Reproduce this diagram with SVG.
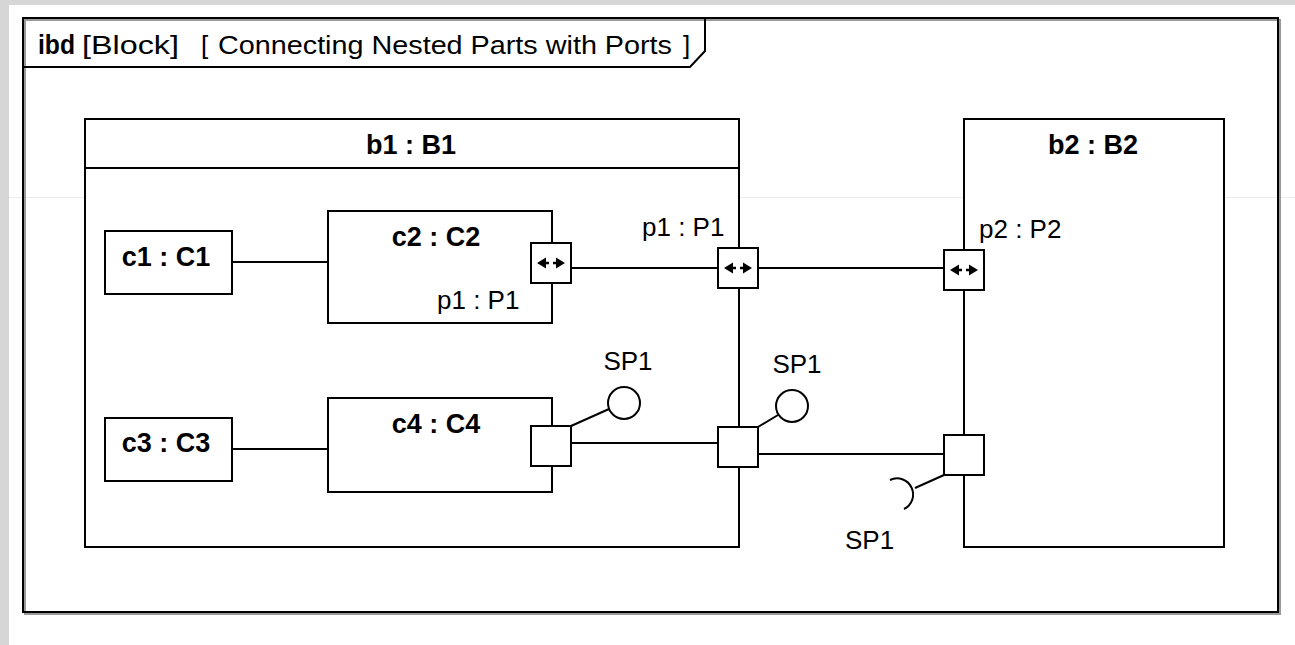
<svg xmlns="http://www.w3.org/2000/svg" width="1295" height="645" viewBox="0 0 1295 645">
<defs>
<style>
.bg{fill:#d6d6d6}
.box{fill:#fff;stroke:#000;stroke-width:2}
.ln{fill:none;stroke:#000;stroke-width:2}
.port{fill:#fff;stroke:#000;stroke-width:2}
.t{font-family:"Liberation Sans",Arial,sans-serif;font-size:26px;fill:#000}
.b{font-family:"Liberation Sans",Arial,sans-serif;font-size:27px;font-weight:bold;fill:#000}
.tt{font-family:"Liberation Sans",Arial,sans-serif;font-size:26px;fill:#000}
.arr{fill:#000}
</style>
<g id="dirglyph">
<path class="arr" d="M-14,0 L-5,-5.5 L-5,5.5 Z M14,0 L5,-5.5 L5,5.5 Z"/>
<path d="M-6,0 H-2 M2,0 H6" stroke="#000" stroke-width="2.5"/>
</g>
</defs>
<rect x="0" y="0" width="1295" height="645" fill="#fff"/>
<rect class="bg" x="0" y="0" width="1295" height="5"/>
<rect class="bg" x="0" y="0" width="9" height="645"/>
<line x1="9" y1="197.5" x2="1295" y2="197.5" stroke="#ececec" stroke-width="1"/>

<g id="frame">
<rect x="25" y="20" width="1255" height="594" fill="none" stroke="#9a9a9a" stroke-width="2"/>
<rect x="23" y="18" width="1255" height="594" fill="none" stroke="#000" stroke-width="2"/>
<path class="ln" d="M23,67 H690 L705,51 V18"/>
<text class="b" x="38" y="54" textLength="37" lengthAdjust="spacingAndGlyphs">ibd</text>
<text class="tt" x="82" y="54" textLength="97" lengthAdjust="spacingAndGlyphs">[Block]</text>
<text class="tt" x="201" y="54">[</text>
<text class="tt" x="218" y="54" textLength="454" lengthAdjust="spacingAndGlyphs">Connecting Nested Parts with Ports</text>
<text class="tt" x="683" y="54">]</text>
</g>

<g id="b1">
<rect class="box" x="85" y="119" width="654" height="428"/>
<line class="ln" x1="85" y1="168" x2="739" y2="168"/>
<text class="b" x="411" y="154" text-anchor="middle">b1 : B1</text>
</g>

<g id="b2">
<rect class="box" x="964" y="119" width="260" height="428"/>
<text class="b" x="1093" y="154" text-anchor="middle">b2 : B2</text>
</g>

<g id="c1">
<rect class="box" x="105" y="231" width="127" height="63"/>
<text class="b" x="166" y="266" text-anchor="middle">c1 : C1</text>
</g>

<g id="c2">
<rect class="box" x="328" y="211" width="224" height="112"/>
<text class="b" x="436" y="246" text-anchor="middle">c2 : C2</text>
<text class="t" x="437" y="309">p1 : P1</text>
</g>

<g id="c3">
<rect class="box" x="105" y="418" width="127" height="63"/>
<text class="b" x="166" y="452" text-anchor="middle">c3 : C3</text>
</g>

<g id="c4">
<rect class="box" x="328" y="398" width="224" height="94"/>
<text class="b" x="436" y="433" text-anchor="middle">c4 : C4</text>
</g>

<g id="connectors">
<line class="ln" x1="232" y1="262" x2="328" y2="262"/>
<line class="ln" x1="232" y1="449" x2="328" y2="449"/>
<line class="ln" x1="571" y1="268" x2="718" y2="268"/>
<line class="ln" x1="758" y1="268" x2="944" y2="268"/>
<line class="ln" x1="571" y1="443" x2="717" y2="443"/>
<line class="ln" x1="758" y1="454" x2="944" y2="454"/>
</g>

<g id="c2-p1">
<rect class="port" x="531" y="243" width="40" height="40"/>
<use href="#dirglyph" x="551" y="263"/>
</g>

<g id="b1-p1">
<rect class="port" x="718" y="248" width="40" height="40"/>
<use href="#dirglyph" x="738" y="268"/>
<text class="t" x="642" y="236">p1 : P1</text>
</g>

<g id="b2-p2">
<rect class="port" x="944" y="250" width="40" height="40"/>
<use href="#dirglyph" x="964" y="270"/>
<text class="t" x="979" y="238">p2 : P2</text>
</g>

<g id="c4-port">
<rect class="port" x="531" y="426" width="40" height="40"/>
<line class="ln" x1="571" y1="426" x2="609" y2="409"/>
<circle class="port" cx="624" cy="403" r="16"/>
<text class="t" x="628" y="370" text-anchor="middle">SP1</text>
</g>

<g id="b1-sp">
<rect class="port" x="718" y="427" width="40" height="40"/>
<line class="ln" x1="758" y1="427" x2="778" y2="415"/>
<circle class="port" cx="792" cy="406" r="16"/>
<text class="t" x="797" y="373" text-anchor="middle">SP1</text>
</g>

<g id="b2-sp">
<rect class="port" x="944" y="435" width="40" height="40"/>
<line class="ln" x1="944" y1="475" x2="915" y2="488"/>
<path class="ln" d="M890,480 A16,16 0 0 1 904,509"/>
<text class="t" x="845" y="549">SP1</text>
</g>
</svg>
